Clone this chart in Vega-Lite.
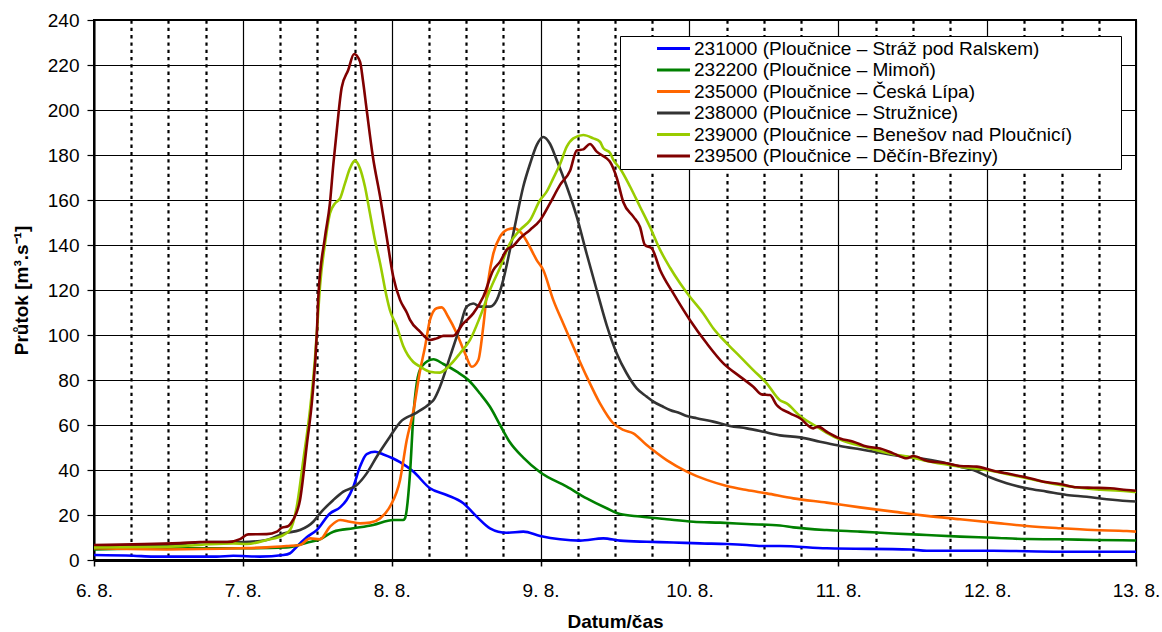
{
  "$schema": "https://vega.github.io/schema/vega-lite/v6.json",
  "width": 1042,
  "height": 540,
  "autosize": "none",
  "padding": {"left": 94, "top": 20, "right": 26, "bottom": 72},
  "background": "white",
  "config": {"view": {"stroke": "#000", "strokeWidth": 2}},
  "data": {"values": [
{"s":"231000","d":6.000,"q":2.2},{"s":"231000","d":6.264,"q":1.9},{"s":"231000","d":6.399,"q":1.5},{"s":"231000","d":6.824,"q":1.5},{"s":"231000","d":6.936,"q":1.9},{"s":"231000","d":7.115,"q":1.5},{"s":"231000","d":7.272,"q":2.2},{"s":"231000","d":7.317,"q":3.0},{"s":"231000","d":7.362,"q":5.9},{"s":"231000","d":7.429,"q":10.1},{"s":"231000","d":7.496,"q":13.3},{"s":"231000","d":7.585,"q":20.7},{"s":"231000","d":7.653,"q":23.4},{"s":"231000","d":7.697,"q":26.7},{"s":"231000","d":7.742,"q":32.6},{"s":"231000","d":7.787,"q":41.5},{"s":"231000","d":7.832,"q":47.1},{"s":"231000","d":7.888,"q":48.1},{"s":"231000","d":7.944,"q":46.9},{"s":"231000","d":8.056,"q":43.5},{"s":"231000","d":8.145,"q":39.3},{"s":"231000","d":8.257,"q":31.9},{"s":"231000","d":8.369,"q":28.9},{"s":"231000","d":8.481,"q":25.2},{"s":"231000","d":8.571,"q":19.3},{"s":"231000","d":8.660,"q":14.1},{"s":"231000","d":8.772,"q":12.1},{"s":"231000","d":8.884,"q":12.6},{"s":"231000","d":8.997,"q":10.7},{"s":"231000","d":9.131,"q":9.2},{"s":"231000","d":9.265,"q":8.6},{"s":"231000","d":9.422,"q":9.6},{"s":"231000","d":9.534,"q":8.6},{"s":"231000","d":9.713,"q":8.1},{"s":"231000","d":9.892,"q":7.8},{"s":"231000","d":10.071,"q":7.4},{"s":"231000","d":10.251,"q":7.1},{"s":"231000","d":10.385,"q":6.7},{"s":"231000","d":10.497,"q":6.2},{"s":"231000","d":10.608,"q":6.2},{"s":"231000","d":10.922,"q":5.2},{"s":"231000","d":11.482,"q":4.7},{"s":"231000","d":11.594,"q":4.1},{"s":"231000","d":12.041,"q":4.1},{"s":"231000","d":12.490,"q":3.7},{"s":"231000","d":13.000,"q":3.7},
{"s":"232200","d":6.000,"q":4.7},{"s":"232200","d":6.488,"q":5.2},{"s":"232200","d":6.981,"q":5.2},{"s":"232200","d":7.294,"q":5.6},{"s":"232200","d":7.429,"q":7.7},{"s":"232200","d":7.518,"q":9.2},{"s":"232200","d":7.608,"q":12.6},{"s":"232200","d":7.742,"q":14.1},{"s":"232200","d":7.875,"q":15.6},{"s":"232200","d":8.010,"q":17.8},{"s":"232200","d":8.078,"q":17.8},{"s":"232200","d":8.089,"q":18.5},{"s":"232200","d":8.123,"q":38.6},{"s":"232200","d":8.145,"q":63.7},{"s":"232200","d":8.168,"q":78.5},{"s":"232200","d":8.201,"q":86.0},{"s":"232200","d":8.280,"q":89.2},{"s":"232200","d":8.347,"q":87.1},{"s":"232200","d":8.437,"q":83.7},{"s":"232200","d":8.515,"q":80.0},{"s":"232200","d":8.593,"q":74.0},{"s":"232200","d":8.660,"q":68.1},{"s":"232200","d":8.728,"q":60.0},{"s":"232200","d":8.794,"q":52.3},{"s":"232200","d":8.884,"q":45.5},{"s":"232200","d":8.997,"q":39.0},{"s":"232200","d":9.176,"q":32.6},{"s":"232200","d":9.310,"q":27.4},{"s":"232200","d":9.444,"q":23.0},{"s":"232200","d":9.534,"q":20.4},{"s":"232200","d":9.668,"q":19.3},{"s":"232200","d":9.847,"q":18.1},{"s":"232200","d":10.026,"q":17.0},{"s":"232200","d":10.206,"q":16.6},{"s":"232200","d":10.385,"q":16.0},{"s":"232200","d":10.608,"q":15.3},{"s":"232200","d":10.698,"q":14.5},{"s":"232200","d":10.922,"q":13.3},{"s":"232200","d":11.146,"q":12.6},{"s":"232200","d":11.369,"q":11.8},{"s":"232200","d":11.594,"q":11.1},{"s":"232200","d":11.818,"q":10.4},{"s":"232200","d":12.041,"q":9.9},{"s":"232200","d":12.266,"q":9.3},{"s":"232200","d":12.490,"q":9.2},{"s":"232200","d":12.713,"q":8.9},{"s":"232200","d":13.000,"q":8.7},
{"s":"235000","d":6.000,"q":5.2},{"s":"235000","d":6.488,"q":4.7},{"s":"235000","d":6.981,"q":5.2},{"s":"235000","d":7.160,"q":5.6},{"s":"235000","d":7.294,"q":6.2},{"s":"235000","d":7.384,"q":6.7},{"s":"235000","d":7.451,"q":9.6},{"s":"235000","d":7.518,"q":9.2},{"s":"235000","d":7.585,"q":14.8},{"s":"235000","d":7.653,"q":17.8},{"s":"235000","d":7.719,"q":17.0},{"s":"235000","d":7.787,"q":16.3},{"s":"235000","d":7.854,"q":16.6},{"s":"235000","d":7.922,"q":18.5},{"s":"235000","d":7.988,"q":23.7},{"s":"235000","d":8.056,"q":35.6},{"s":"235000","d":8.101,"q":53.3},{"s":"235000","d":8.145,"q":66.0},{"s":"235000","d":8.190,"q":84.0},{"s":"235000","d":8.224,"q":94.8},{"s":"235000","d":8.257,"q":106.7},{"s":"235000","d":8.302,"q":111.9},{"s":"235000","d":8.336,"q":112.3},{"s":"235000","d":8.380,"q":108.0},{"s":"235000","d":8.437,"q":100.7},{"s":"235000","d":8.492,"q":91.9},{"s":"235000","d":8.538,"q":85.9},{"s":"235000","d":8.582,"q":88.9},{"s":"235000","d":8.615,"q":103.7},{"s":"235000","d":8.649,"q":124.4},{"s":"235000","d":8.683,"q":136.3},{"s":"235000","d":8.728,"q":143.7},{"s":"235000","d":8.772,"q":146.7},{"s":"235000","d":8.817,"q":147.4},{"s":"235000","d":8.873,"q":145.2},{"s":"235000","d":8.929,"q":139.0},{"s":"235000","d":8.974,"q":133.3},{"s":"235000","d":9.018,"q":128.9},{"s":"235000","d":9.085,"q":115.6},{"s":"235000","d":9.153,"q":105.0},{"s":"235000","d":9.220,"q":94.8},{"s":"235000","d":9.310,"q":81.5},{"s":"235000","d":9.399,"q":69.6},{"s":"235000","d":9.489,"q":60.7},{"s":"235000","d":9.556,"q":57.8},{"s":"235000","d":9.623,"q":56.3},{"s":"235000","d":9.713,"q":51.1},{"s":"235000","d":9.847,"q":44.4},{"s":"235000","d":9.982,"q":39.3},{"s":"235000","d":10.116,"q":35.6},{"s":"235000","d":10.251,"q":32.9},{"s":"235000","d":10.385,"q":31.1},{"s":"235000","d":10.519,"q":29.6},{"s":"235000","d":10.698,"q":27.4},{"s":"235000","d":10.922,"q":25.5},{"s":"235000","d":11.146,"q":23.4},{"s":"235000","d":11.369,"q":21.5},{"s":"235000","d":11.594,"q":19.6},{"s":"235000","d":11.818,"q":18.1},{"s":"235000","d":12.041,"q":16.6},{"s":"235000","d":12.266,"q":15.1},{"s":"235000","d":12.490,"q":14.1},{"s":"235000","d":12.713,"q":13.3},{"s":"235000","d":12.938,"q":12.9},{"s":"235000","d":13.000,"q":12.6},
{"s":"238000","d":6.000,"q":5.8},{"s":"238000","d":6.500,"q":6.5},{"s":"238000","d":6.757,"q":8.0},{"s":"238000","d":7.000,"q":8.0},{"s":"238000","d":7.160,"q":8.9},{"s":"238000","d":7.272,"q":11.8},{"s":"238000","d":7.384,"q":13.3},{"s":"238000","d":7.473,"q":17.0},{"s":"238000","d":7.518,"q":20.7},{"s":"238000","d":7.608,"q":26.7},{"s":"238000","d":7.675,"q":30.4},{"s":"238000","d":7.765,"q":33.3},{"s":"238000","d":7.832,"q":38.5},{"s":"238000","d":7.899,"q":45.9},{"s":"238000","d":7.988,"q":54.8},{"s":"238000","d":8.056,"q":61.2},{"s":"238000","d":8.168,"q":65.5},{"s":"238000","d":8.257,"q":69.6},{"s":"238000","d":8.280,"q":71.0},{"s":"238000","d":8.324,"q":77.0},{"s":"238000","d":8.392,"q":90.4},{"s":"238000","d":8.459,"q":103.7},{"s":"238000","d":8.503,"q":112.6},{"s":"238000","d":8.548,"q":114.0},{"s":"238000","d":8.593,"q":112.6},{"s":"238000","d":8.660,"q":112.6},{"s":"238000","d":8.706,"q":115.6},{"s":"238000","d":8.749,"q":124.4},{"s":"238000","d":8.794,"q":137.8},{"s":"238000","d":8.840,"q":152.6},{"s":"238000","d":8.884,"q":166.0},{"s":"238000","d":8.929,"q":176.0},{"s":"238000","d":8.974,"q":184.4},{"s":"238000","d":9.018,"q":188.0},{"s":"238000","d":9.063,"q":185.0},{"s":"238000","d":9.108,"q":177.8},{"s":"238000","d":9.176,"q":166.0},{"s":"238000","d":9.243,"q":152.6},{"s":"238000","d":9.310,"q":136.0},{"s":"238000","d":9.377,"q":120.0},{"s":"238000","d":9.444,"q":104.4},{"s":"238000","d":9.511,"q":91.9},{"s":"238000","d":9.578,"q":83.0},{"s":"238000","d":9.646,"q":76.3},{"s":"238000","d":9.713,"q":72.6},{"s":"238000","d":9.758,"q":70.4},{"s":"238000","d":9.824,"q":68.1},{"s":"238000","d":9.869,"q":66.7},{"s":"238000","d":9.937,"q":65.2},{"s":"238000","d":9.982,"q":64.0},{"s":"238000","d":10.049,"q":63.0},{"s":"238000","d":10.160,"q":61.5},{"s":"238000","d":10.272,"q":59.6},{"s":"238000","d":10.385,"q":58.5},{"s":"238000","d":10.497,"q":57.0},{"s":"238000","d":10.608,"q":55.4},{"s":"238000","d":10.743,"q":54.5},{"s":"238000","d":10.877,"q":52.6},{"s":"238000","d":11.012,"q":50.7},{"s":"238000","d":11.146,"q":49.2},{"s":"238000","d":11.281,"q":47.7},{"s":"238000","d":11.415,"q":46.2},{"s":"238000","d":11.549,"q":45.2},{"s":"238000","d":11.683,"q":43.7},{"s":"238000","d":11.818,"q":41.5},{"s":"238000","d":11.907,"q":40.0},{"s":"238000","d":11.997,"q":37.3},{"s":"238000","d":12.131,"q":34.1},{"s":"238000","d":12.266,"q":31.9},{"s":"238000","d":12.400,"q":30.4},{"s":"238000","d":12.535,"q":28.9},{"s":"238000","d":12.669,"q":28.1},{"s":"238000","d":12.803,"q":27.0},{"s":"238000","d":12.938,"q":26.2},{"s":"238000","d":13.000,"q":26.0},
{"s":"239000","d":6.000,"q":5.6},{"s":"239000","d":6.488,"q":5.9},{"s":"239000","d":6.712,"q":6.7},{"s":"239000","d":6.936,"q":7.4},{"s":"239000","d":7.026,"q":7.1},{"s":"239000","d":7.160,"q":8.9},{"s":"239000","d":7.272,"q":11.1},{"s":"239000","d":7.317,"q":13.3},{"s":"239000","d":7.362,"q":23.7},{"s":"239000","d":7.406,"q":44.4},{"s":"239000","d":7.451,"q":66.7},{"s":"239000","d":7.485,"q":90.0},{"s":"239000","d":7.507,"q":111.0},{"s":"239000","d":7.518,"q":121.5},{"s":"239000","d":7.552,"q":140.7},{"s":"239000","d":7.585,"q":154.0},{"s":"239000","d":7.619,"q":158.5},{"s":"239000","d":7.653,"q":160.7},{"s":"239000","d":7.686,"q":167.4},{"s":"239000","d":7.719,"q":174.0},{"s":"239000","d":7.753,"q":177.5},{"s":"239000","d":7.787,"q":174.0},{"s":"239000","d":7.820,"q":166.0},{"s":"239000","d":7.854,"q":154.0},{"s":"239000","d":7.888,"q":142.0},{"s":"239000","d":7.922,"q":131.9},{"s":"239000","d":7.966,"q":117.0},{"s":"239000","d":7.988,"q":111.0},{"s":"239000","d":8.033,"q":104.0},{"s":"239000","d":8.078,"q":95.0},{"s":"239000","d":8.145,"q":88.0},{"s":"239000","d":8.190,"q":86.0},{"s":"239000","d":8.257,"q":83.7},{"s":"239000","d":8.324,"q":83.3},{"s":"239000","d":8.392,"q":86.7},{"s":"239000","d":8.459,"q":91.9},{"s":"239000","d":8.526,"q":97.8},{"s":"239000","d":8.593,"q":108.0},{"s":"239000","d":8.660,"q":120.0},{"s":"239000","d":8.728,"q":130.0},{"s":"239000","d":8.794,"q":140.7},{"s":"239000","d":8.862,"q":146.7},{"s":"239000","d":8.929,"q":151.0},{"s":"239000","d":8.997,"q":160.0},{"s":"239000","d":9.041,"q":163.7},{"s":"239000","d":9.085,"q":169.6},{"s":"239000","d":9.131,"q":176.0},{"s":"239000","d":9.176,"q":183.7},{"s":"239000","d":9.220,"q":187.4},{"s":"239000","d":9.287,"q":188.9},{"s":"239000","d":9.354,"q":187.4},{"s":"239000","d":9.399,"q":185.9},{"s":"239000","d":9.422,"q":183.0},{"s":"239000","d":9.466,"q":181.0},{"s":"239000","d":9.489,"q":177.8},{"s":"239000","d":9.534,"q":174.0},{"s":"239000","d":9.601,"q":166.0},{"s":"239000","d":9.668,"q":157.0},{"s":"239000","d":9.735,"q":148.0},{"s":"239000","d":9.803,"q":137.8},{"s":"239000","d":9.869,"q":130.0},{"s":"239000","d":9.937,"q":123.0},{"s":"239000","d":10.003,"q":117.0},{"s":"239000","d":10.093,"q":109.6},{"s":"239000","d":10.160,"q":103.0},{"s":"239000","d":10.251,"q":96.3},{"s":"239000","d":10.340,"q":90.4},{"s":"239000","d":10.429,"q":84.4},{"s":"239000","d":10.519,"q":78.5},{"s":"239000","d":10.608,"q":71.0},{"s":"239000","d":10.653,"q":69.6},{"s":"239000","d":10.743,"q":64.0},{"s":"239000","d":10.855,"q":59.3},{"s":"239000","d":10.922,"q":56.5},{"s":"239000","d":11.012,"q":53.5},{"s":"239000","d":11.191,"q":50.0},{"s":"239000","d":11.369,"q":47.0},{"s":"239000","d":11.504,"q":45.5},{"s":"239000","d":11.594,"q":44.0},{"s":"239000","d":11.818,"q":41.5},{"s":"239000","d":12.041,"q":39.5},{"s":"239000","d":12.266,"q":36.3},{"s":"239000","d":12.490,"q":33.3},{"s":"239000","d":12.713,"q":31.5},{"s":"239000","d":12.938,"q":30.6},{"s":"239000","d":13.000,"q":30.2},
{"s":"239500","d":6.000,"q":6.7},{"s":"239500","d":6.578,"q":7.5},{"s":"239500","d":6.712,"q":8.0},{"s":"239500","d":6.894,"q":8.0},{"s":"239500","d":6.981,"q":9.3},{"s":"239500","d":7.035,"q":11.4},{"s":"239500","d":7.160,"q":11.5},{"s":"239500","d":7.229,"q":12.6},{"s":"239500","d":7.263,"q":14.4},{"s":"239500","d":7.303,"q":15.0},{"s":"239500","d":7.337,"q":17.8},{"s":"239500","d":7.384,"q":26.7},{"s":"239500","d":7.431,"q":52.0},{"s":"239500","d":7.465,"q":71.0},{"s":"239500","d":7.498,"q":102.0},{"s":"239500","d":7.507,"q":117.0},{"s":"239500","d":7.552,"q":143.7},{"s":"239500","d":7.585,"q":158.6},{"s":"239500","d":7.608,"q":176.0},{"s":"239500","d":7.631,"q":191.0},{"s":"239500","d":7.664,"q":210.0},{"s":"239500","d":7.708,"q":217.8},{"s":"239500","d":7.747,"q":224.9},{"s":"239500","d":7.787,"q":221.5},{"s":"239500","d":7.807,"q":213.0},{"s":"239500","d":7.832,"q":200.0},{"s":"239500","d":7.874,"q":179.0},{"s":"239500","d":7.922,"q":161.5},{"s":"239500","d":7.966,"q":143.7},{"s":"239500","d":8.010,"q":126.0},{"s":"239500","d":8.056,"q":115.6},{"s":"239500","d":8.101,"q":110.0},{"s":"239500","d":8.123,"q":106.7},{"s":"239500","d":8.190,"q":101.5},{"s":"239500","d":8.257,"q":97.8},{"s":"239500","d":8.302,"q":98.5},{"s":"239500","d":8.347,"q":99.6},{"s":"239500","d":8.412,"q":99.6},{"s":"239500","d":8.479,"q":105.0},{"s":"239500","d":8.548,"q":109.6},{"s":"239500","d":8.615,"q":117.0},{"s":"239500","d":8.683,"q":128.9},{"s":"239500","d":8.728,"q":132.6},{"s":"239500","d":8.772,"q":137.8},{"s":"239500","d":8.817,"q":139.6},{"s":"239500","d":8.862,"q":143.0},{"s":"239500","d":8.929,"q":146.7},{"s":"239500","d":8.997,"q":151.0},{"s":"239500","d":9.063,"q":158.5},{"s":"239500","d":9.131,"q":166.7},{"s":"239500","d":9.198,"q":173.0},{"s":"239500","d":9.243,"q":182.0},{"s":"239500","d":9.287,"q":182.5},{"s":"239500","d":9.332,"q":184.9},{"s":"239500","d":9.377,"q":181.5},{"s":"239500","d":9.444,"q":178.5},{"s":"239500","d":9.466,"q":177.0},{"s":"239500","d":9.511,"q":170.0},{"s":"239500","d":9.556,"q":159.0},{"s":"239500","d":9.623,"q":152.6},{"s":"239500","d":9.668,"q":148.0},{"s":"239500","d":9.701,"q":140.0},{"s":"239500","d":9.747,"q":138.5},{"s":"239500","d":9.803,"q":128.9},{"s":"239500","d":9.892,"q":118.5},{"s":"239500","d":10.003,"q":106.7},{"s":"239500","d":10.116,"q":96.3},{"s":"239500","d":10.228,"q":87.4},{"s":"239500","d":10.340,"q":81.5},{"s":"239500","d":10.429,"q":77.0},{"s":"239500","d":10.485,"q":73.6},{"s":"239500","d":10.541,"q":73.3},{"s":"239500","d":10.586,"q":68.9},{"s":"239500","d":10.676,"q":65.2},{"s":"239500","d":10.743,"q":63.0},{"s":"239500","d":10.832,"q":58.5},{"s":"239500","d":10.864,"q":59.3},{"s":"239500","d":10.922,"q":57.0},{"s":"239500","d":11.012,"q":54.0},{"s":"239500","d":11.101,"q":52.6},{"s":"239500","d":11.191,"q":50.4},{"s":"239500","d":11.281,"q":49.6},{"s":"239500","d":11.369,"q":47.4},{"s":"239500","d":11.460,"q":45.2},{"s":"239500","d":11.504,"q":46.2},{"s":"239500","d":11.594,"q":44.1},{"s":"239500","d":11.728,"q":43.0},{"s":"239500","d":11.818,"q":41.8},{"s":"239500","d":11.930,"q":41.5},{"s":"239500","d":12.041,"q":39.7},{"s":"239500","d":12.153,"q":38.2},{"s":"239500","d":12.266,"q":36.7},{"s":"239500","d":12.378,"q":34.8},{"s":"239500","d":12.490,"q":33.8},{"s":"239500","d":12.601,"q":32.3},{"s":"239500","d":12.713,"q":32.1},{"s":"239500","d":12.826,"q":31.9},{"s":"239500","d":12.938,"q":31.1},{"s":"239500","d":13.000,"q":30.8}
  ]},
  "transform": [
    {"lookup": "s", "from": {"data": {"values": [
      {"s": "231000", "name": "231000 (Ploučnice – Stráž pod Ralskem)"},
      {"s": "232200", "name": "232200 (Ploučnice – Mimoň)"},
      {"s": "235000", "name": "235000 (Ploučnice – Česká Lípa)"},
      {"s": "238000", "name": "238000 (Ploučnice – Stružnice)"},
      {"s": "239000", "name": "239000 (Ploučnice – Benešov nad Ploučnicí)"},
      {"s": "239500", "name": "239500 (Ploučnice – Děčín-Březiny)"}
    ]}, "key": "s", "fields": ["name"]}}
  ],
  "mark": {"type": "line", "strokeWidth": 2.6, "interpolate": "monotone"},
  "encoding": {
    "x": {
      "field": "d",
      "type": "quantitative",
      "scale": {"domain": [6, 13], "nice": false, "zero": false},
      "axis": {
        "title": "Datum/čas",
        "titleFont": "Liberation Sans",
        "titleFontSize": 19,
        "titleFontWeight": "bold",
        "titleColor": "#000",
        "titlePadding": 12,
        "values": [6, 6.25, 6.5, 6.75, 7, 7.25, 7.5, 7.75, 8, 8.25, 8.5, 8.75, 9, 9.25, 9.5, 9.75, 10, 10.25, 10.5, 10.75, 11, 11.25, 11.5, 11.75, 12, 12.25, 12.5, 12.75, 13],
        "labelExpr": "datum.value % 1 === 0 ? datum.value + '. 8.' : ''",
        "labelOverlap": false,
        "labelFont": "Liberation Sans",
        "labelFontSize": 19,
        "labelColor": "#000",
        "labelPadding": 15,
        "labelFlush": false,
        "tickSize": 6,
        "tickColor": "#000",
        "tickWidth": 1.5,
        "tickOpacity": {"condition": {"test": "datum.value % 1 === 0", "value": 1}, "value": 0},
        "domainColor": "#000",
        "domainWidth": 3,
        "grid": true,
        "gridColor": "#000",
        "gridOpacity": 1,
        "gridWidth": {"condition": {"test": "datum.value % 1 === 0", "value": 1.2}, "value": 2.2},
        "gridDash": {"condition": {"test": "datum.value % 1 === 0", "value": []}, "value": [3.3, 4]}
      }
    },
    "y": {
      "field": "q",
      "type": "quantitative",
      "scale": {"domain": [0, 240], "nice": false},
      "axis": {
        "title": "Průtok [m³.s⁻¹]",
        "titleFont": "Liberation Sans",
        "titleFontSize": 19,
        "titleFontWeight": "bold",
        "titleColor": "#000",
        "titlePadding": 16,
        "values": [0, 20, 40, 60, 80, 100, 120, 140, 160, 180, 200, 220, 240],
        "labelFont": "Liberation Sans",
        "labelFontSize": 19,
        "labelColor": "#000",
        "labelPadding": 8,
        "tickSize": 7,
        "tickColor": "#000",
        "tickWidth": 1.2,
        "domainColor": "#000",
        "domainWidth": 2,
        "grid": true,
        "gridColor": "#000",
        "gridOpacity": 1,
        "gridWidth": 1.2
      }
    },
    "color": {
      "field": "name",
      "type": "nominal",
      "scale": {"domain": ["231000 (Ploučnice – Stráž pod Ralskem)", "232200 (Ploučnice – Mimoň)", "235000 (Ploučnice – Česká Lípa)", "238000 (Ploučnice – Stružnice)", "239000 (Ploučnice – Benešov nad Ploučnicí)", "239500 (Ploučnice – Děčín-Březiny)"], "range": ["#0000FF", "#008000", "#FF6600", "#333333", "#99CC00", "#800000"]},
      "legend": {
        "title": "\u00a0",
        "titleOrient": "right",
        "titlePadding": 46,
        "titleFontSize": 2,
        "titleColor": "white",
        "orient": "none",
        "legendX": 526,
        "legendY": 16,
        "fillColor": "white",
        "strokeColor": "#000",
        "padding": 3,
        "rowPadding": 1.5,
        "symbolType": "M-2.06,0H2.06",
        "symbolSize": 256,
        "symbolStrokeWidth": 3,
        "symbolOffset": 41,
        "labelOffset": 11,
        "labelFont": "Liberation Sans",
        "labelFontSize": 19,
        "labelColor": "#000",
        "labelLimit": 700
      }
    },
    "order": {"field": "s", "type": "nominal"}
  }
}
